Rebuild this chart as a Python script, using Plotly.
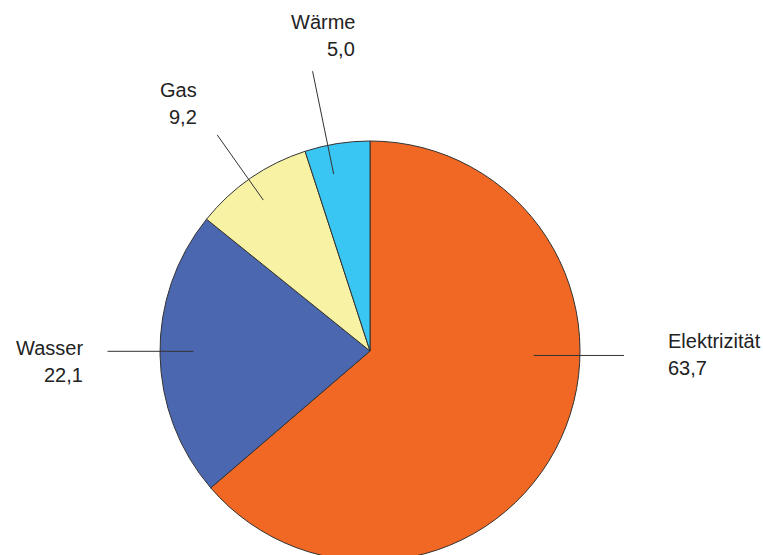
import math
import plotly.graph_objects as go

# Anteile nach Energieträger (%)
categories = ["Elektrizität", "Wasser", "Gas", "Wärme"]
values = [63.7, 22.1, 9.2, 5.0]
value_labels = ["63,7", "22,1", "9,2", "5,0"]
colors = ["#F06824", "#4A67B0", "#F8F3A4", "#3AC6F2"]

# Canvas (a little taller than the viewport so the pie runs off the bottom edge)
W, H = 763, 575
CX, CY, R = 370, 351, 210  # pie centre and radius in pixels


def px(x):
    return x / W


def py(y):
    return (H - y) / H


fig = go.Figure(
    go.Pie(
        labels=categories,
        values=values,
        marker=dict(colors=colors, line=dict(color="#333333", width=1)),
        sort=False,
        direction="clockwise",
        rotation=0,
        textinfo="none",
        hoverinfo="label+value",
        showlegend=False,
        domain=dict(x=[px(CX - R), px(CX + R)], y=[py(CY + R), py(CY - R)]),
    )
)

# Leader lines: (angle offset from slice middle, inner radius, outer radius, horizontal end)
leaders = {
    "Elektrizität": (-23.1, 0.78, 1.21, True),
    "Wasser": (0.8, 0.84, 1.25, True),
    "Gas": (-0.7, 0.88, 1.26, False),
    "Wärme": (-2.6, 0.86, 1.36, False),
}

total = sum(values)
cum = 0.0
shapes = []
for cat, v in zip(categories, values):
    mid = (cum + v / 2) / total * 360.0
    cum += v
    off, r_in, r_out, horiz = leaders[cat]
    a = math.radians(mid + off)
    x0 = CX + r_in * R * math.sin(a)
    y0 = CY - r_in * R * math.cos(a)
    x1 = CX + r_out * R * math.sin(a)
    y1 = y0 if horiz else CY - r_out * R * math.cos(a)
    shapes.append(dict(type="line", xref="paper", yref="paper",
                       x0=px(x0), y0=py(y0), x1=px(x1), y1=py(y1),
                       line=dict(color="#333333", width=1)))

# Label blocks: name on the first line, value on the second
label_pos = {
    "Elektrizität": (667, 348, "left"),
    "Wasser": (84, 355, "right"),
    "Gas": (198, 97, "right"),
    "Wärme": (356, 29, "right"),
}
font = dict(family="Liberation Sans, Arial, sans-serif", size=20, color="#222222")
annotations = []
for cat, val in zip(categories, value_labels):
    x, base, anchor = label_pos[cat]
    for i, txt in enumerate([cat, val]):
        annotations.append(dict(
            text=txt, xref="paper", yref="paper",
            x=px(x), y=py(base + i * 27 - 7),
            xanchor=anchor, yanchor="middle", showarrow=False,
            font=font, borderpad=0,
        ))

fig.update_layout(
    width=W, height=H,
    margin=dict(l=0, r=0, t=0, b=0),
    paper_bgcolor="white", plot_bgcolor="white",
    shapes=shapes, annotations=annotations,
)

fig.write_html(
    "out.html",
    post_script="document.documentElement.style.overflow='hidden';document.body.style.overflow='hidden';document.body.style.margin='0';",
)
